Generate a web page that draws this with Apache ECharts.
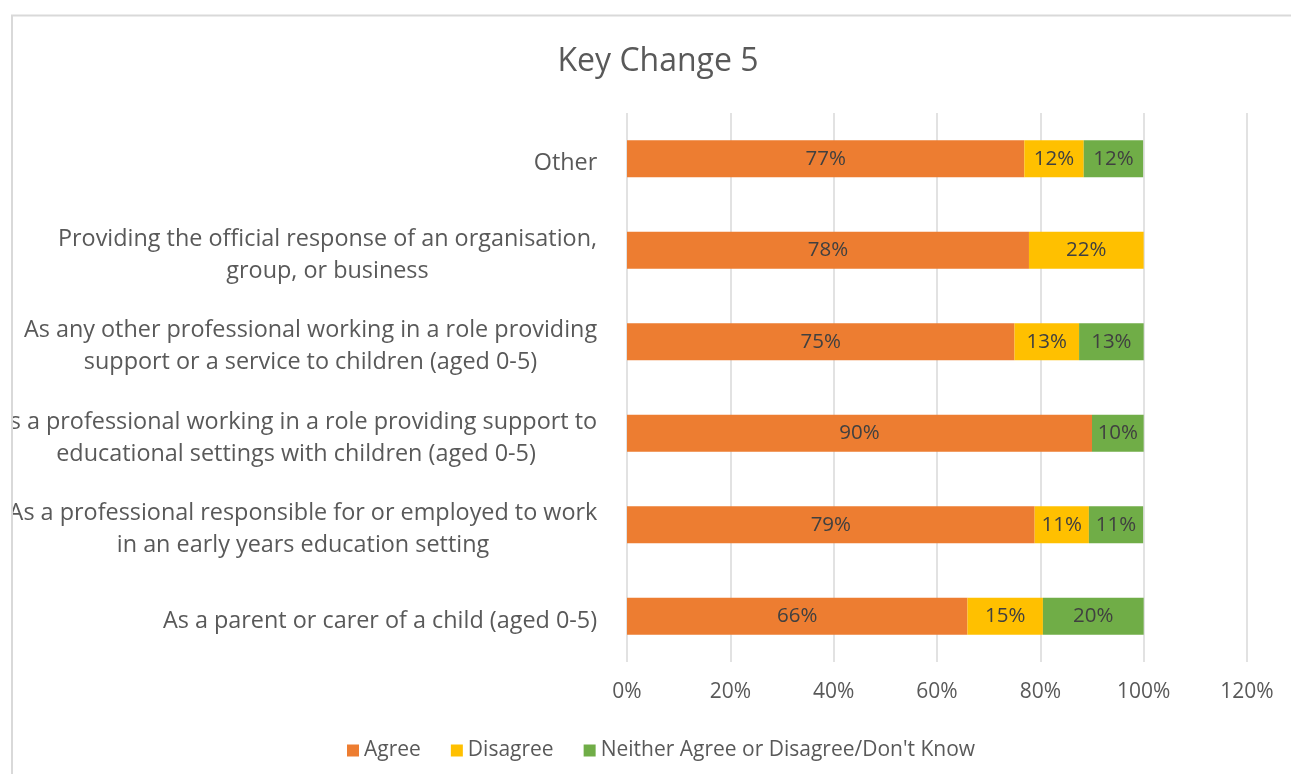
<!DOCTYPE html>
<html>
<head>
<meta charset="utf-8">
<script src="https://cdn.jsdelivr.net/npm/echarts@6/dist/echarts.min.js"></script>
<style>
html,body{margin:0;padding:0;background:#fff;}
#chart{width:1291px;height:774px;}
</style>
</head>
<body>
<div id="chart"></div>
<script>
// ---- data ----
const categories = [
  "Other",
  "Providing the official response of an organisation,\ngroup, or business",
  "As any other professional working in a role providing\nsupport or a service to children (aged 0-5)",
  "As a professional working in a role providing support to\neducational settings with children (aged 0-5)",
  "As a professional responsible for or employed to work\nin an early years education setting",
  "As a parent or carer of a child (aged 0-5)"
];
const seriesNames = ["Agree", "Disagree", "Neither Agree or Disagree/Don't Know"];
const agree    = [76.9, 77.8, 75.0, 90.0, 78.9, 65.9];
const disagree = [11.5, 22.2, 12.5, 0,    10.5, 14.6];
const neither  = [11.5, 0,    12.5, 10.0, 10.5, 19.5];
const xTicks = [0, 20, 40, 60, 80, 100, 120];

// ---- layout / style ----
const FONT = 'Open Sans';
const LABEL_SIZE = 23.4;
const colors = ['#ED7D31', '#FFC000', '#70AD47'];

const ctx = document.createElement('canvas').getContext('2d');
ctx.font = LABEL_SIZE + 'px "' + FONT + '"';
const rich = {};
categories.forEach((c, i) => {
  const w = Math.max.apply(null, c.split('\n').map(l => ctx.measureText(l).width));
  rich['r' + i] = {width: Math.ceil(w) + 1, align: 'center', fontSize: LABEL_SIZE, fontFamily: FONT, color: '#595959', lineHeight: 32};
});

const chart = echarts.init(document.getElementById('chart'), null, {renderer: 'canvas'});

function barSeries(name, data, color) {
  return {
    name: name,
    type: 'bar',
    stack: 'total',
    data: data,
    barWidth: 37,
    itemStyle: {color: color},
    label: {
      show: true,
      position: 'inside',
      color: '#404040',
      fontSize: 20.5,
      fontFamily: FONT,
      formatter: p => p.value > 0 ? Math.round(p.value) + '%' : ''
    },
    emphasis: {disabled: true}
  };
}

chart.setOption({
  animation: false,
  backgroundColor: '#fff',
  title: {
    text: 'Key Change 5',
    left: 653,
    textAlign: 'center',
    top: 41,
    textStyle: {fontFamily: FONT, fontSize: 32, fontWeight: 'normal', color: '#595959'}
  },
  legend: {
    left: 342,
    top: 735,
    itemWidth: 12,
    itemHeight: 12,
    itemGap: 30,
    icon: 'rect',
    data: seriesNames,
    textStyle: {fontFamily: FONT, fontSize: 21, color: '#595959'}
  },
  grid: {left: 627, right: 44, top: 113, bottom: 112, containLabel: false, outerBoundsMode: 'none'},
  xAxis: {
    type: 'value',
    min: xTicks[0],
    max: xTicks[xTicks.length - 1],
    interval: xTicks[1] - xTicks[0],
    axisLine: {show: false},
    axisTick: {show: false},
    splitLine: {lineStyle: {color: '#D9D9D9', width: 1.5}},
    axisLabel: {
      margin: 20,
      fontFamily: FONT, fontSize: 21, color: '#595959',
      formatter: v => v + '%'
    }
  },
  yAxis: {
    type: 'category',
    inverse: true,
    data: categories,
    axisLine: {show: false},
    axisTick: {show: false},
    axisLabel: {
      margin: 29,
      align: 'right',
      interval: 0,
      padding: [10, 0, 0, 0],
      formatter: (v, i) => v.split('\n').map(l => '{r' + i + '|' + l + '}').join('\n'),
      rich: rich
    }
  },
  series: [
    barSeries(seriesNames[0], agree, colors[0]),
    barSeries(seriesNames[1], disagree, colors[1]),
    barSeries(seriesNames[2], neither, colors[2])
  ],
  graphic: [
    {type: 'rect', z: 100, shape: {x: 0, y: 0, width: 11, height: 774}, style: {fill: '#fff'}},
    {type: 'rect', z: 101, shape: {x: 12, y: 15.5, width: 1320, height: 800}, style: {fill: 'none', stroke: '#D9D9D9', lineWidth: 2}}
  ]
});
</script>
</body>
</html>
